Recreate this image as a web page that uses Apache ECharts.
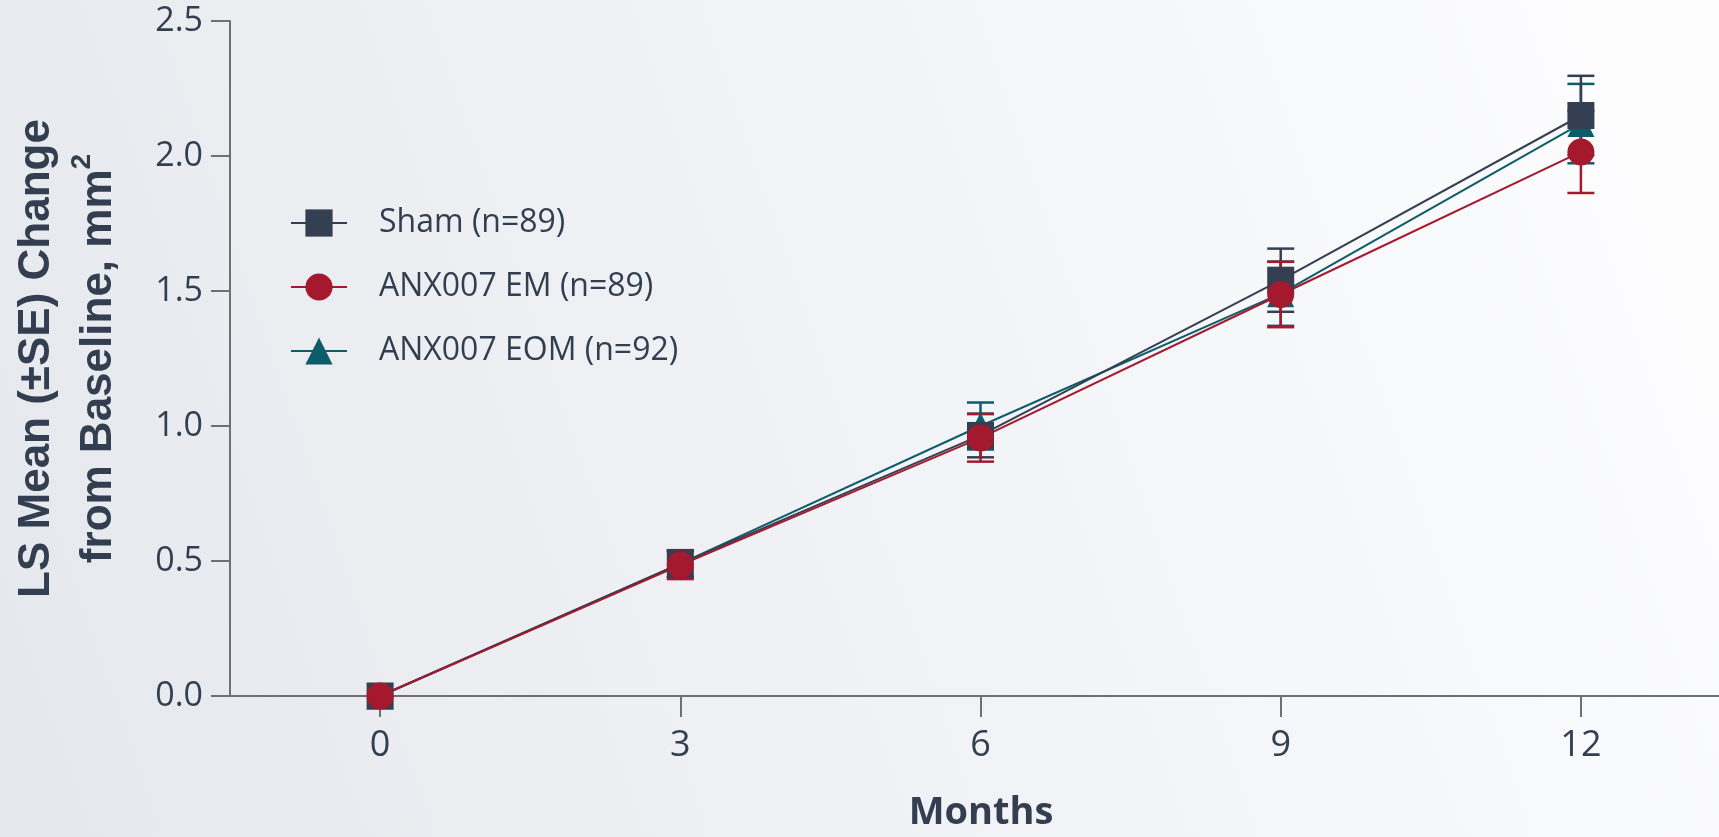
<!DOCTYPE html>
<html>
<head>
<meta charset="utf-8">
<script src="https://cdn.jsdelivr.net/npm/echarts@6/dist/echarts.min.js"></script>
<style>
  html, body { margin: 0; padding: 0; }
  #chart { width: 1719px; height: 837px; }
</style>
</head>
<body>
<div id="chart"></div>
<script>
// data
var months = [0, 3, 6, 9, 12];
var monthTicks = [0, 3, 6, 9, 12];
var shamMean = [0, 0.49, 0.965, 1.54, 2.15];
var shamSE = [0, 0.05, 0.081, 0.117, 0.147];
var emMean = [0, 0.485, 0.956, 1.487, 2.015];
var emSE = [0, 0.052, 0.088, 0.121, 0.152];
var eomMean = [0, 0.49, 1.0, 1.49, 2.12];
var eomSE = [0, 0.05, 0.087, 0.119, 0.147];
var groupNames = ["Sham (n=89)", "ANX007 EM (n=89)", "ANX007 EOM (n=92)"];

var textColor = "#333f50";
var axisColor = "#6e7173";
var colors = { sham: "#343f51", em: "#a5192e", eom: "#0d5c6b" };

function points(mean) {
  return months.map(function (m, i) { return [m, mean[i]]; });
}
function bars(mean, se) {
  return months.map(function (m, i) { return [m, mean[i] - se[i], mean[i] + se[i]]; });
}

function errRender(color) {
  return function (params, api) {
    var x = api.value(0);
    var lo = api.coord([x, api.value(1)]);
    var hi = api.coord([x, api.value(2)]);
    if (Math.abs(lo[1] - hi[1]) < 1) return null;
    var hw = 13.5;
    var st = { stroke: color, lineWidth: 2.5 };
    return {
      type: "group",
      children: [
        { type: "line", shape: { x1: lo[0], y1: lo[1], x2: hi[0], y2: hi[1] }, style: st },
        { type: "line", shape: { x1: lo[0] - hw, y1: lo[1], x2: lo[0] + hw, y2: lo[1] }, style: st },
        { type: "line", shape: { x1: hi[0] - hw, y1: hi[1], x2: hi[0] + hw, y2: hi[1] }, style: st }
      ]
    };
  };
}

function lineSeries(name, mean, symbol, color) {
  return {
    name: name,
    type: "line",
    data: points(mean),
    symbol: symbol,
    symbolSize: 27,
    lineStyle: { width: 2, color: color },
    itemStyle: { color: color },
    emphasis: { disabled: true }
  };
}
function errSeries(name, mean, se, color) {
  return {
    name: name,
    type: "custom",
    data: bars(mean, se),
    renderItem: errRender(color),
    encode: { x: 0, y: [1, 2] }
  };
}

var myChart = echarts.init(document.getElementById("chart"));
var option = {
  animation: false,
  backgroundColor: {
    type: "linear", x: 0, y: 0.85, x2: 1, y2: 0.15,
    colorStops: [
      { offset: 0, color: "#e5e8ed" },
      { offset: 1, color: "#fdfdfe" }
    ]
  },
  textStyle: { fontFamily: "Open Sans" },
  grid: { left: 230, right: 0, top: 21, bottom: 137 },
  legend: {
    data: groupNames,
    orient: "vertical",
    left: 290,
    top: 207,
    padding: 0,
    itemWidth: 56,
    itemHeight: 34,
    itemGap: 32,
    textStyle: { fontFamily: "Open Sans", fontSize: 32, color: textColor, padding: [0, 0, 0, 27] }
  },
  xAxis: {
    type: "value",
    min: -1.5,
    max: 13.38,
    name: "Months",
    nameLocation: "middle",
    nameGap: 98,
    nameTextStyle: { fontFamily: "Open Sans", fontSize: 38, fontWeight: "bold", color: textColor, padding: [0, 0, 0, 13] },
    axisLine: { lineStyle: { color: axisColor, width: 2 } },
    axisTick: { show: true, length: 21, lineStyle: { color: axisColor, width: 2 }, customValues: monthTicks },
    axisLabel: { fontSize: 36, color: textColor, margin: 32, customValues: monthTicks },
    splitLine: { show: false }
  },
  yAxis: {
    type: "value",
    min: 0,
    max: 2.5,
    interval: 0.5,
    name: "{a|LS Mean (±SE) Change}\n{a|from Baseline, mm}{s|2}",
    nameLocation: "middle",
    nameRotate: 90,
    nameGap: 100,
    nameTextStyle: {
      rich: {
        a: { fontFamily: "Liberation Sans", fontSize: 44, fontWeight: "bold", color: textColor, lineHeight: 62 },
        s: { fontFamily: "Liberation Sans", fontSize: 28, fontWeight: "bold", color: textColor, verticalAlign: "top", lineHeight: 40 }
      }
    },
    axisLine: { show: true, onZero: false, lineStyle: { color: axisColor, width: 2 } },
    axisTick: { show: true, length: 19, lineStyle: { color: axisColor, width: 2 } },
    axisLabel: {
      fontFamily: "Open Sans", fontSize: 34, color: textColor, margin: 27,
      formatter: function (v) { return v.toFixed(1); }
    },
    splitLine: { show: false }
  },
  series: [
    errSeries("eom-se", eomMean, eomSE, colors.eom),
    lineSeries(groupNames[2], eomMean, "triangle", colors.eom),
    errSeries("sham-se", shamMean, shamSE, colors.sham),
    lineSeries(groupNames[0], shamMean, "rect", colors.sham),
    errSeries("em-se", emMean, emSE, colors.em),
    lineSeries(groupNames[1], emMean, "circle", colors.em)
  ]
};
myChart.setOption(option);
</script>
</body>
</html>
